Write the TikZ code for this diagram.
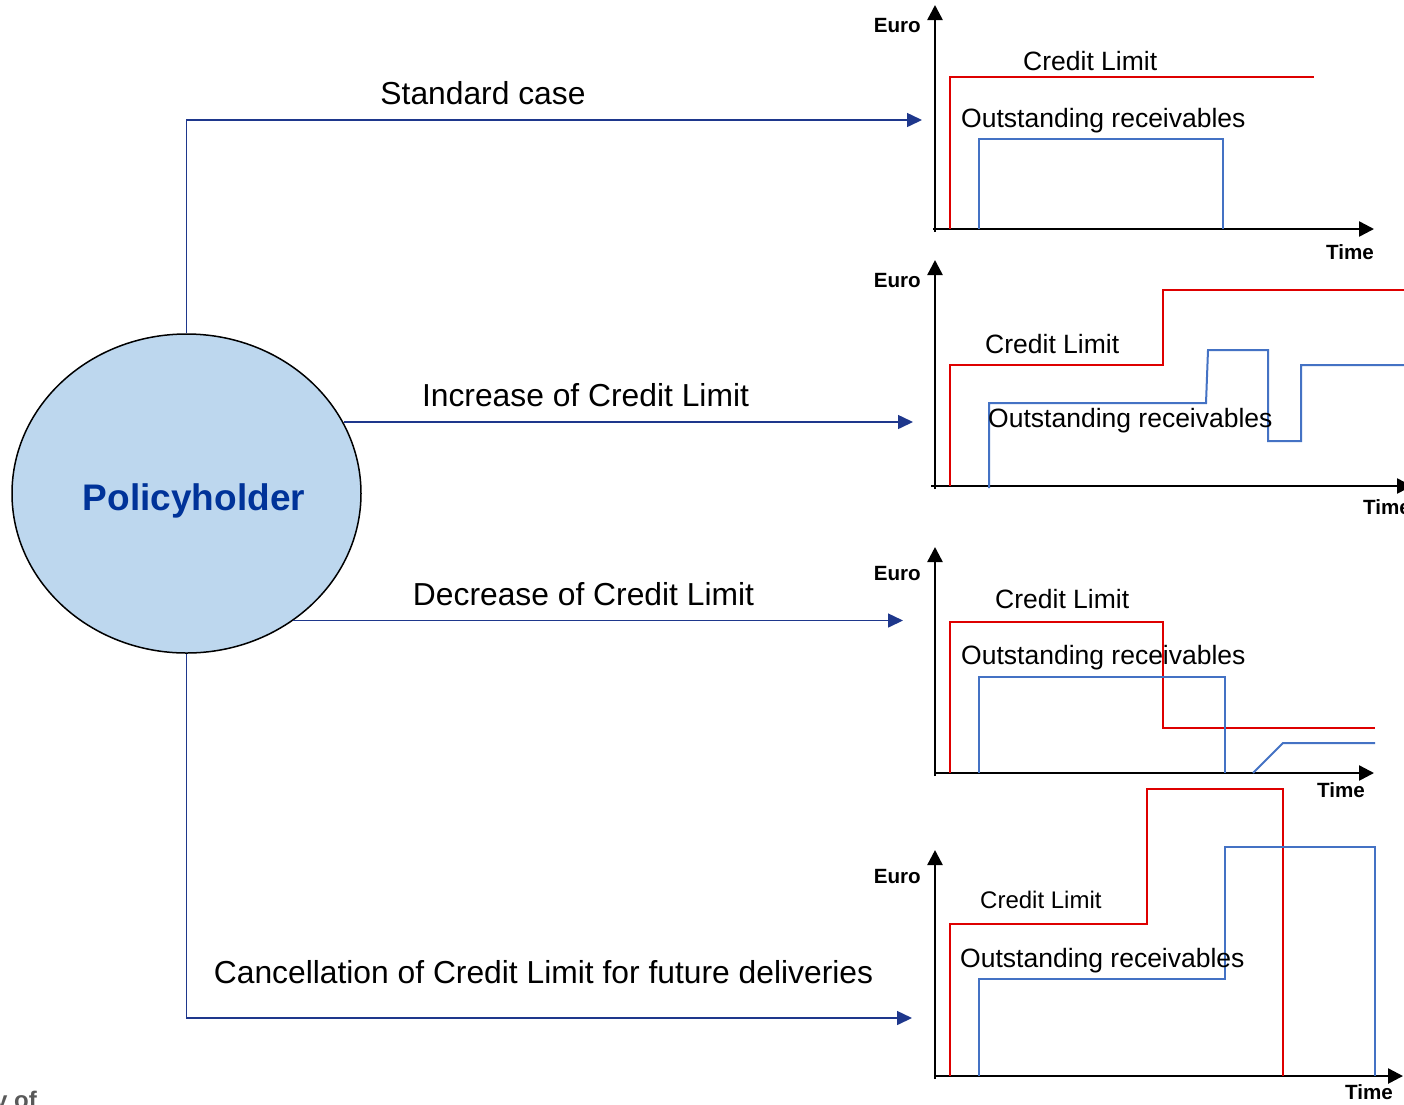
\documentclass[tikz,border=0pt]{standalone}
\usepackage{fontspec}
\setmainfont{Liberation Sans}
\usetikzlibrary{arrows.meta,shapes.geometric}
\definecolor{cblue}{RGB}{30,55,140}
\definecolor{lred}{RGB}{222,0,0}
\definecolor{rblue}{RGB}{68,114,196}
\definecolor{phfill}{RGB}{189,215,238}
\definecolor{phblue}{RGB}{0,51,153}
\definecolor{footgray}{RGB}{89,89,89}
\tikzset{
  axisline/.style={line width=2.5pt, -{Triangle[length=15pt,width=15pt]}},
  climline/.style={draw=lred, line width=2pt},
  recline/.style={draw=rblue, line width=2pt},
  connector/.style={draw=cblue, line width=1.5pt, -{Triangle[length=15pt,width=14pt,fill=cblue]}},
  mainlbl/.style={inner sep=0, font=\fontsize{31.8}{36}\selectfont, anchor=base},
  chartlbl/.style={inner sep=0, font=\fontsize{26.5}{30}\selectfont, anchor=base west},
  axlbl/.style={inner sep=0, font=\bfseries\fontsize{20.6}{24}\selectfont},
}
\begin{document}
\begin{tikzpicture}[x=1pt,y=-1pt]
\useasboundingbox (0,0) rectangle (1404,1104);
\fill[white] (0,0) rectangle (1404,1104);

% Policyholder
\node[ellipse, draw=black, line width=1.5pt, fill=phfill, minimum width=349pt, minimum height=319pt, inner sep=0] (ph) at (186.5,493.5) {};
\node[inner sep=0, font=\bfseries\fontsize{37}{42}\selectfont, text=phblue, anchor=base] (phtxt) at (194,510) {Policyholder};

% connectors
\coordinate (t1) at (922,120);
\coordinate (t2) at (913,422);
\coordinate (t3) at (903,620.5);
\coordinate (t4) at (912,1018);
\draw[connector] (ph.north) |- (t1);
\draw[connector] (ph.24.6 |- t2) -- (t2);
\draw[connector] (ph.-50 |- t3) -- (t3);
\draw[connector] (ph.south) |- (t4);

\node[mainlbl] (l1) at (483,104) {Standard case};
\node[mainlbl] (l2) at (585.5,406) {Increase of Credit Limit};
\node[mainlbl] (l3) at (583.5,605) {Decrease of Credit Limit};
\node[mainlbl] (l4) at (543.5,983) {Cancellation of Credit Limit for future deliveries};

% chart 1
\draw[axisline] (935,232) -- (935,5);
\draw[axisline] (933,229) -- (1374,229);
\draw[climline] (950,229) -- (950,77) -- (1314,77);
\draw[recline] (979,229) -- (979,139) -- (1223,139) -- (1223,229);
\node[axlbl, anchor=base east] (euro1) at (921,32) {Euro};
\node[axlbl, anchor=base east] (time1) at (1374,259) {Time};
\node[chartlbl] (cl1) at (1023,70) {Credit Limit};
\node[chartlbl] (or1) at (961,127) {Outstanding receivables};

% chart 2
\draw[axisline] (935,489) -- (935,260);
\draw[axisline] (931,486) -- (1412,486);
\draw[climline] (950,486) -- (950,365) -- (1163,365) -- (1163,290) -- (1412,290);
\draw[recline] (989,488) -- (989,403) -- (1206,403) -- (1208,350) -- (1268,350) -- (1268,441) -- (1301,441) -- (1301,365) -- (1412,365);
\node[axlbl, anchor=base east] (euro2) at (921,287) {Euro};
\node[axlbl, anchor=base west] (time2) at (1363,514) {Time};
\node[chartlbl] (cl2) at (985,353) {Credit Limit};
\node[chartlbl] (or2) at (988,427) {Outstanding receivables};

% chart 3
\draw[axisline] (935,776) -- (935,547);
\draw[axisline] (935,773) -- (1374,773);
\draw[climline] (950,773) -- (950,622) -- (1163,622) -- (1163,728) -- (1375,728);
\draw[recline] (979,773) -- (979,677) -- (1225,677) -- (1225,773);
\draw[recline] (1253,773) -- (1283,743) -- (1375,743);
\node[axlbl, anchor=base east] (euro3) at (921,580) {Euro};
\node[axlbl, anchor=base west] (time3) at (1317,797) {Time};
\node[chartlbl] (cl3) at (995,608) {Credit Limit};
\node[chartlbl] (or3) at (961,664) {Outstanding receivables};

% chart 4
\draw[axisline] (935,1079) -- (935,850);
\draw[axisline] (935,1076) -- (1403,1076);
\draw[climline] (950,1076) -- (950,924) -- (1147,924) -- (1147,789) -- (1283,789) -- (1283,1076);
\draw[recline] (979,1076) -- (979,979) -- (1225,979) -- (1225,847) -- (1375,847) -- (1375,1076);
\node[axlbl, anchor=base east] (euro4) at (921,883) {Euro};
\node[axlbl, anchor=base west] (time4) at (1345,1099) {Time};
\node[chartlbl, font=\fontsize{24}{28}\selectfont] (cl4) at (980,908) {Credit Limit};
\node[chartlbl] (or4) at (960,967) {Outstanding receivables};

% cut-off footer text
\node[inner sep=0, anchor=base west, font=\bfseries\fontsize{24}{28}\selectfont, text=footgray] (yof) at (-6,1108) {y of};
\end{tikzpicture}
\end{document}
